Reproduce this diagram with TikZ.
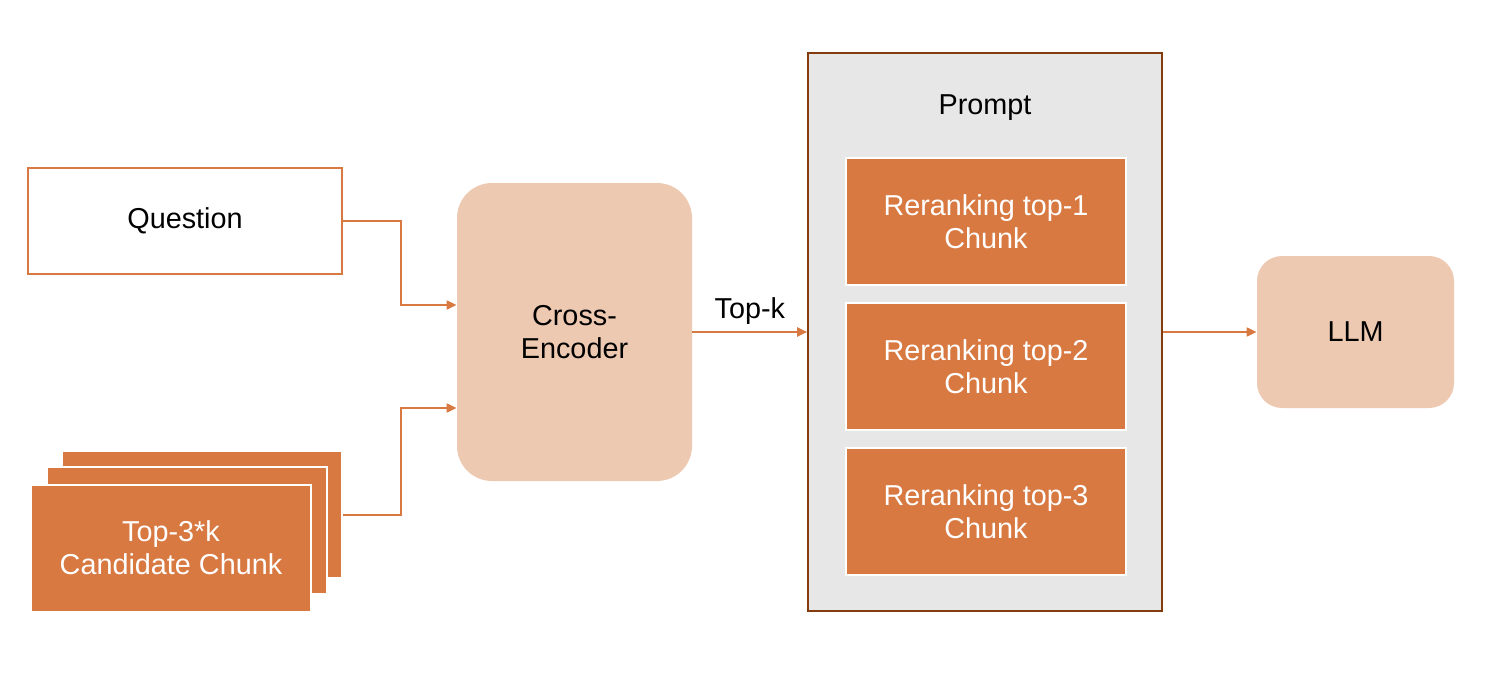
\documentclass[tikz,border=0pt]{standalone}
\usepackage{fontspec}
\setmainfont{Liberation Sans}
\usetikzlibrary{arrows.meta}
\definecolor{orangefonce}{RGB}{216,121,66}
\definecolor{peche}{RGB}{238,201,177}
\definecolor{gris}{RGB}{231,231,231}
\definecolor{brun}{RGB}{132,60,12}
\begin{document}
\begin{tikzpicture}[x=0.5pt,y=-0.5pt]  % une unite = un pixel
\tikzstyle{boite}=[rectangle, inner sep=0pt, align=center, font=\fontsize{14.4}{16.5}\selectfont]
\tikzstyle{bloc}=[boite, fill=orangefonce, draw=white, line width=1pt, text=white, minimum width=140pt, minimum height=63.5pt]
\tikzstyle{arrondi}=[boite, fill=peche]
\tikzstyle{fleche}=[draw=orangefonce, line width=1pt, -{Triangle[length=5pt,width=4.5pt]}]
\useasboundingbox (0,0) rectangle (1494,674);
% entrees
\node[boite, draw=orangefonce, line width=0.8pt, minimum width=157pt, minimum height=53pt] (question) at (185,221) {Question};
\node[bloc] (chunk3) at (202,514.5) {};
\node[bloc] (chunk2) at (186.5,530) {};
\node[bloc] (chunk1) at (171,548) {Top-3*k\\Candidate Chunk};
% re-classement
\node[arrondi, rounded corners=17.5pt, minimum width=117.5pt, minimum height=149pt] (cross) at (574.5,332) {Cross-\\Encoder};
% le prompt
\node[boite, fill=gris, draw=brun, line width=0.8pt, minimum width=177pt, minimum height=279pt] (prompt) at (985,332) {};
\node[boite] (titre) at (985,108) {Prompt};
\node[bloc] (top1) at (986,221.5) {Reranking top-1\\Chunk};
\node[bloc] (top2) at (986,366.5) {Reranking top-2\\Chunk};
\node[bloc] (top3) at (986,511.5) {Reranking top-3\\Chunk};
\node[arrondi, rounded corners=12.5pt, minimum width=98.5pt, minimum height=76pt] (llm) at (1355.5,332) {LLM};
% fleches
\draw[fleche] (question.east) -- ++(58,0) |- ([yshift=13.5pt]cross.west);
\draw[fleche] (chunk3.east) -- ++(58,0) |- ([yshift=-38pt]cross.west);
\draw[fleche] (cross) -- node[above, font=\fontsize{14.4}{16.5}\selectfont]{Top-k} (prompt);
\draw[fleche] (prompt) -- (llm);
\end{tikzpicture}
\end{document}
